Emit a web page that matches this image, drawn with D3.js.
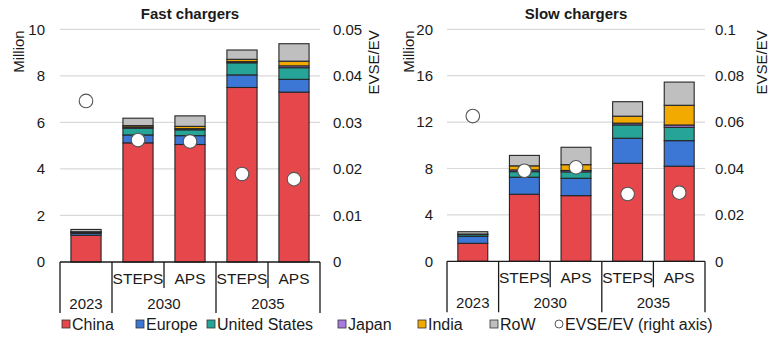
<!DOCTYPE html>
<html><head><meta charset="utf-8">
<script src="https://cdn.jsdelivr.net/npm/d3@7"></script>
<style>
body{margin:0;background:#fff;}
text{font-family:"Liberation Sans",Arial,sans-serif;fill:#1a1a1a;}
</style></head>
<body><svg id="c" width="778" height="347"></svg>
<script>
// ---- data ----
const categories = ["2023","STEPS 2030","APS 2030","STEPS 2035","APS 2035"];
const subLabels = ["","STEPS","APS","STEPS","APS"];
const groups = [{label:"2023",from:0,to:0},{label:"2030",from:1,to:2},{label:"2035",from:3,to:4}];
const seriesNames = ["China","Europe","United States","Japan","India","RoW"];
const seriesColors = ["#E5474B","#3D77D6","#25A497","#A97BE0","#F2A900","#BFBFBF"];

const fastChina  = [1.15, 5.12, 5.05, 7.50, 7.30];
const fastEurope = [0.08, 0.34, 0.38, 0.54, 0.55];
const fastUS     = [0.04, 0.29, 0.25, 0.52, 0.50];
const fastJapan  = [0.02, 0.05, 0.05, 0.05, 0.08];
const fastIndia  = [0.01, 0.06, 0.10, 0.10, 0.20];
const fastRoW    = [0.10, 0.32, 0.45, 0.40, 0.75];
const fastRatio  = [0.0346, 0.0262, 0.0259, 0.0189, 0.0178];

const slowChina  = [1.55, 5.78, 5.66, 8.45, 8.20];
const slowEurope = [0.60, 1.47, 1.50, 2.16, 2.20];
const slowUS     = [0.15, 0.48, 0.55, 1.15, 1.15];
const slowJapan  = [0.02, 0.15, 0.12, 0.15, 0.20];
const slowIndia  = [0.03, 0.35, 0.50, 0.60, 1.70];
const slowRoW    = [0.20, 0.90, 1.50, 1.25, 2.00];
const slowRatio  = [0.0626, 0.0390, 0.0405, 0.0290, 0.0296];

const fastLeftTicks = [0,2,4,6,8,10];
const fastRightTicks = [0,0.01,0.02,0.03,0.04,0.05];
const slowLeftTicks = [0,4,8,12,16,20];
const slowRightTicks = [0,0.02,0.04,0.06,0.08,0.1];

const legendLabels = ["China","Europe","United States","Japan","India","RoW","EVSE/EV (right axis)"];

// ---- drawing ----
const svg = d3.select("#c");
const FS = 15;

function panel(o){
  const g = svg.append("g");
  const x = d3.scaleBand().domain(categories).range([o.left,o.right]).padding(0);
  const y = d3.scaleLinear().domain([0,o.lmax]).range([o.bottom,o.top]);
  const y2 = d3.scaleLinear().domain([0,o.rmax]).range([o.bottom,o.top]);
  g.selectAll(".grid").data(o.lticks.filter(d=>d>0)).join("line")
    .attr("x1",o.left).attr("x2",o.right)
    .attr("y1",d=>y(d)).attr("y2",d=>y(d))
    .attr("stroke","#d9d9d9").attr("stroke-width",1.2);
  const la = d3.axisLeft(y).tickValues(o.lticks).tickSize(0).tickPadding(0).tickFormat(d3.format("d"));
  const lg = g.append("g").attr("transform",`translate(${o.left-o.lpad},0)`).call(la);
  lg.select(".domain").remove();
  lg.selectAll("text").attr("font-size",FS).attr("font-family","Liberation Sans, Arial").attr("fill","#1a1a1a");
  const ra = d3.axisRight(y2).tickValues(o.rticks).tickSize(0).tickPadding(0).tickFormat(d=>d===0?"0":String(+d.toFixed(3)));
  const rg = g.append("g").attr("transform",`translate(${o.right+o.rpad},0)`).call(ra);
  rg.select(".domain").remove();
  rg.selectAll("text").attr("font-size",FS).attr("font-family","Liberation Sans, Arial").attr("fill","#1a1a1a");
  g.append("text").attr("transform",`translate(${o.ltitleX},${o.top+1}) rotate(-90)`)
    .attr("text-anchor","end").attr("dy","0.35em").attr("font-size",FS).text("Million");
  g.append("text").attr("transform",`translate(${o.rtitleX},${o.top+1}) rotate(-90)`)
    .attr("text-anchor","end").attr("dy","0.35em").attr("font-size",FS).text("EVSE/EV");
  g.append("text").attr("x",(o.left+o.right)/2).attr("y",19).attr("text-anchor","middle")
    .attr("font-size",FS).attr("font-weight","bold").text(o.title);
  const rows = categories.map((c,i)=>{const r={cat:c}; seriesNames.forEach((s,j)=>r[s]=o.series[j][i]); return r;});
  const stack = d3.stack().keys(seriesNames)(rows);
  const bw = x.bandwidth()*0.58;
  stack.forEach((layer,j)=>{
    g.selectAll(null).data(layer).join("rect")
      .attr("x",d=>x(d.data.cat)+(x.bandwidth()-bw)/2).attr("width",bw)
      .attr("y",d=>y(d[1])).attr("height",d=>y(d[0])-y(d[1]))
      .attr("fill",seriesColors[j]).attr("stroke","#262626").attr("stroke-width",1.1);
  });
  g.selectAll(null).data(o.ratio).join("circle")
    .attr("cx",(d,i)=>x(categories[i])+x.bandwidth()/2).attr("cy",d=>y2(d)).attr("r",6.8)
    .attr("fill","#fff").attr("stroke","#555").attr("stroke-width",1.1);
  g.append("line").attr("x1",o.left).attr("x2",o.right).attr("y1",o.bottom).attr("y2",o.bottom)
    .attr("stroke","#1a1a1a").attr("stroke-width",1.3);
  const bounds = [];
  groups.forEach(gr=>{bounds.push(x(categories[gr.from]));});
  bounds.push(o.right);
  g.selectAll(null).data(bounds).join("line")
    .attr("x1",d=>d).attr("x2",d=>d).attr("y1",o.bottom).attr("y2",o.bottom+51)
    .attr("stroke","#1a1a1a").attr("stroke-width",1.3);
  const inner = [];
  groups.forEach(gr=>{for(let k=gr.from+1;k<=gr.to;k++) inner.push(x(categories[k]));});
  g.selectAll(null).data(inner).join("line")
    .attr("x1",d=>d).attr("x2",d=>d).attr("y1",o.bottom).attr("y2",o.bottom+26)
    .attr("stroke","#1a1a1a").attr("stroke-width",1.3);
  g.selectAll(null).data(categories).join("text")
    .attr("x",d=>x(d)+x.bandwidth()/2).attr("y",o.bottom+22).attr("text-anchor","middle")
    .attr("font-size",15.5).text((d,i)=>subLabels[i]);
  g.selectAll(null).data(groups).join("text")
    .attr("x",d=>(x(categories[d.from])+x(categories[d.to])+x.bandwidth())/2)
    .attr("y",o.bottom+47).attr("text-anchor","middle").attr("font-size",FS).text(d=>d.label);
}

panel({left:60,right:320,top:29.3,bottom:262,lmax:10,rmax:0.05,lticks:fastLeftTicks,rticks:fastRightTicks,
  lpad:15,rpad:13,ltitleX:19,rtitleX:374,title:"Fast chargers",
  series:[fastChina,fastEurope,fastUS,fastJapan,fastIndia,fastRoW],ratio:fastRatio});
panel({left:447,right:705,top:29.3,bottom:261.3,lmax:20,rmax:0.1,lticks:slowLeftTicks,rticks:slowRightTicks,
  lpad:14,rpad:10,ltitleX:409,rtitleX:762,title:"Slow chargers",
  series:[slowChina,slowEurope,slowUS,slowJapan,slowIndia,slowRoW],ratio:slowRatio});

const legX = [62,136,207,338,418,490,555];
const lg = svg.append("g");
legendLabels.forEach((lab,i)=>{
  const gx = legX[i];
  if(i<6){
    lg.append("rect").attr("x",gx).attr("y",320).attr("width",8).attr("height",8)
      .attr("fill",seriesColors[i]).attr("stroke","#333").attr("stroke-width",0.8);
  } else {
    lg.append("circle").attr("cx",gx+4).attr("cy",324).attr("r",4)
      .attr("fill","#fff").attr("stroke","#444").attr("stroke-width",0.9);
  }
  lg.append("text").attr("x",gx+10).attr("y",329.5).attr("font-size",16).text(lab);
});
</script></body></html>
